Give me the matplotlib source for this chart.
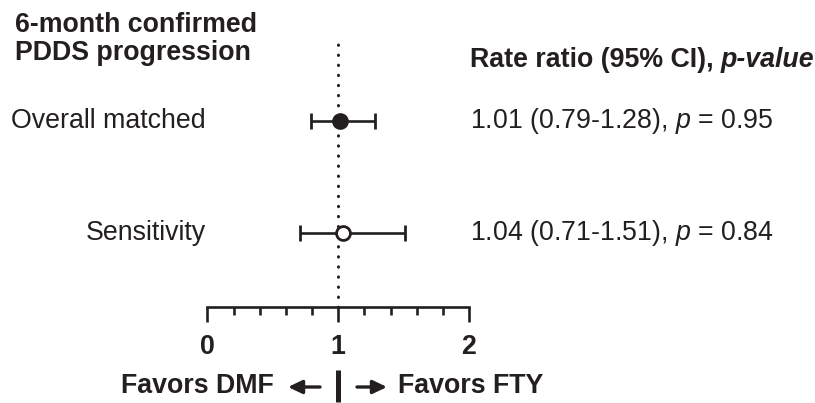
import matplotlib
matplotlib.use("Agg")
import matplotlib.pyplot as plt
from matplotlib.ticker import MultipleLocator
from matplotlib.transforms import blended_transform_factory

# %% Data
labels = ["Overall matched", "Sensitivity"]
rate_ratio = [1.01, 1.04]
ci_low = [0.79, 0.71]
ci_high = [1.28, 1.51]
p_values = [0.95, 0.84]
filled = [True, False]
x_ticks = [0, 1, 2]

# %% Style
plt.rcParams["font.family"] = ["Liberation Sans", "DejaVu Sans"]
plt.rcParams["mathtext.fontset"] = "custom"
plt.rcParams["mathtext.rm"] = "Liberation Sans"
plt.rcParams["mathtext.it"] = "Liberation Sans:italic"
plt.rcParams["mathtext.bf"] = "Liberation Sans:bold"
ink = "#231f20"
fs = 19.3
W, H = 815, 403


def fx(px):
    return px / W


def fy(py):
    return 1 - py / H


fig = plt.figure(figsize=(W / 100, H / 100), dpi=100)
ax = fig.add_axes([fx(207.5), fy(307), 261.5 / W, (307 - 42) / H])

# reference line at 1
ax.axvline(1, color=ink, lw=2.2, linestyle=(0, (0.1, 3.2)),
           dash_capstyle="round", zorder=1)

for i in range(len(labels)):
    err = [[rate_ratio[i] - ci_low[i]], [ci_high[i] - rate_ratio[i]]]
    ax.errorbar(rate_ratio[i], i, xerr=err, fmt="o", ms=10,
                mfc=ink if filled[i] else "white", mec=ink, mew=2,
                ecolor=ink, elinewidth=1.9, capsize=5.5, capthick=1.9,
                zorder=3)
    ax.annotate(labels[i], xy=(fx(206), i), xycoords=("figure fraction", "data"),
                xytext=(0, -5), textcoords="offset points",
                ha="right", va="baseline", fontsize=fs, color=ink)
    txt = (f"{rate_ratio[i]:.2f} ({ci_low[i]:.2f}-{ci_high[i]:.2f}), "
           f"$\\mathit{{p}}$ = {p_values[i]:.2f}")
    ax.annotate(txt, xy=(fx(470), i), xycoords=("figure fraction", "data"),
                xytext=(0, -5), textcoords="offset points",
                ha="left", va="baseline", fontsize=fs, color=ink)

ax.set_xlim(0, 2)
ax.set_ylim(1.661, -0.679 - 3 / 112)
ax.set_xticks(x_ticks)
ax.set_xticklabels([str(t) for t in x_ticks])
ax.xaxis.set_minor_locator(MultipleLocator(0.2))
ax.set_yticks([])
for s in ["top", "left", "right"]:
    ax.spines[s].set_visible(False)
ax.spines["bottom"].set_linewidth(1.9)
ax.spines["bottom"].set_color(ink)
ax.tick_params(axis="x", which="major", length=10.8, width=1.9, pad=9,
               labelsize=fs, colors=ink)
ax.tick_params(axis="x", which="minor", length=5.8, width=1.9, colors=ink)
for lab in ax.get_xticklabels():
    lab.set_fontweight("bold")
ax.patch.set_visible(False)

# %% Titles
fig.text(fx(15), fy(32), "6-month confirmed", fontsize=fs, fontweight="bold",
         va="baseline", color=ink)
fig.text(fx(15), fy(60), "PDDS progression", fontsize=fs, fontweight="bold",
         va="baseline", color=ink)

t1 = fig.text(fx(470), fy(67), "Rate ratio (95% CI),", fontsize=fs,
              fontweight="bold", va="baseline", color=ink)
fig.canvas.draw()
bb = t1.get_window_extent(fig.canvas.get_renderer())
space = 0.278 * fs * fig.dpi / 72
fig.text(fx(bb.x1 + space), fy(67), "p-value", fontsize=fs, fontweight="bold",
         fontstyle="italic", va="baseline", color=ink)

# %% Direction labels
fig.text(fx(274), fy(393), "Favors DMF", fontsize=fs, fontweight="bold",
         ha="right", va="baseline", color=ink)
fig.text(fx(398), fy(393), "Favors FTY", fontsize=fs, fontweight="bold",
         ha="left", va="baseline", color=ink)
arrow = dict(arrowstyle="-|>,head_length=0.42,head_width=0.2", lw=2.4,
             color=ink, shrinkA=0, shrinkB=0, mutation_scale=20)
fig.add_artist(plt.Annotation("", xy=(fx(288), fy(387)), xytext=(fx(320), fy(387)),
                              xycoords="figure fraction", arrowprops=arrow))
fig.add_artist(plt.Annotation("", xy=(fx(387), fy(387)), xytext=(fx(357), fy(387)),
                              xycoords="figure fraction", arrowprops=arrow))
tr = blended_transform_factory(ax.transData, fig.transFigure)
ax.plot([1, 1], [fy(370), fy(402)], transform=tr, color=ink, lw=3.6,
        solid_capstyle="butt", clip_on=False)

fig.savefig("out.png", dpi=100)
